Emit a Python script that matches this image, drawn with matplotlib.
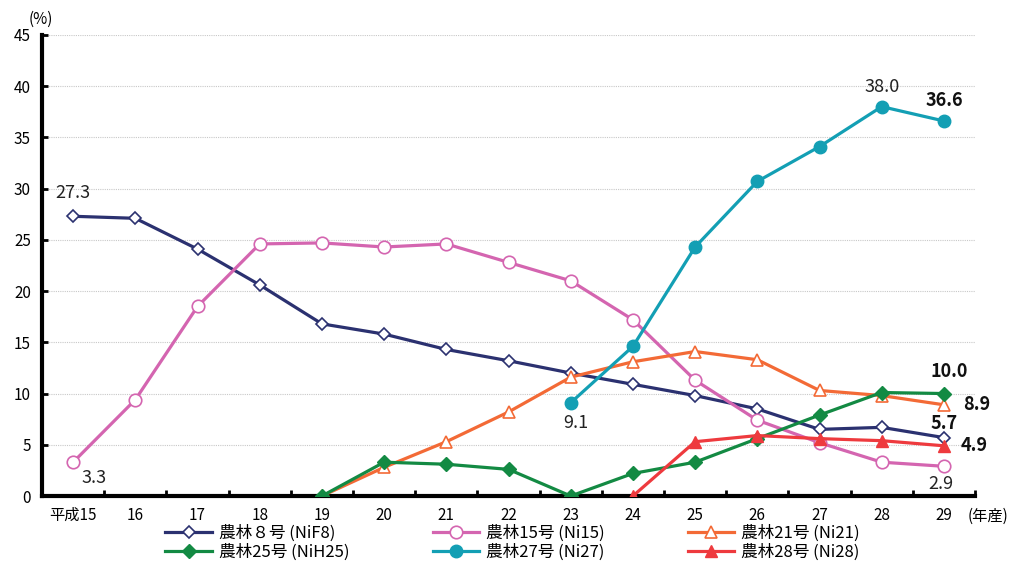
import numpy as np
import matplotlib
matplotlib.use("Agg")
import matplotlib.pyplot as plt

plt.rcParams['font.family'] = ['Noto Sans CJK JP', 'DejaVu Sans']

years = ["平成15", "16", "17", "18", "19", "20", "21", "22", "23", "24", "25", "26", "27", "28", "29"]
nan = np.nan
nif8 = [27.3, 27.1, 24.1, 20.6, 16.8, 15.8, 14.3, 13.2, 12.0, 10.9, 9.8, 8.5, 6.5, 6.7, 5.7]
ni15 = [3.3, 9.4, 18.5, 24.6, 24.7, 24.3, 24.6, 22.8, 21.0, 17.2, 11.3, 7.4, 5.2, 3.3, 2.9]
ni21 = [nan, nan, nan, nan, 0.0, 2.8, 5.3, 8.2, 11.6, 13.1, 14.1, 13.3, 10.3, 9.8, 8.9]
nih25 = [nan, nan, nan, nan, 0.0, 3.3, 3.1, 2.6, 0.0, 2.2, 3.3, 5.6, 7.9, 10.1, 10.0]
ni27 = [nan, nan, nan, nan, nan, nan, nan, nan, 9.1, 14.6, 24.3, 30.7, 34.1, 38.0, 36.6]
ni28 = [nan, nan, nan, nan, nan, nan, nan, nan, nan, 0.0, 5.3, 5.9, 5.6, 5.4, 4.9]

fig = plt.figure(figsize=(10.13, 5.63), dpi=100)
ax = fig.add_axes([0.0415, 0.119, 0.921, 0.819])
x = np.arange(len(years))

lw = 2.3
h_nif8, = ax.plot(x, nif8, color="#2b3170", lw=lw, marker="D", ms=6.5,
                  mfc="white", mec="#2b3170", mew=1.2, label="農林８号 (NiF8)", zorder=3)
h_ni15, = ax.plot(x, ni15, color="#d465b0", lw=lw, marker="o", ms=9,
                  mfc="white", mec="#d465b0", mew=1.2, label="農林15号 (Ni15)", zorder=3)
h_ni21, = ax.plot(x, ni21, color="#f36a36", lw=lw, marker="^", ms=9,
                  mfc="white", mec="#f36a36", mew=1.2, label="農林21号 (Ni21)", zorder=3)
h_nih25, = ax.plot(x, nih25, color="#138a43", lw=lw, marker="D", ms=7,
                   mfc="#138a43", mec="#138a43", label="農林25号 (NiH25)", zorder=3)
h_ni27, = ax.plot(x, ni27, color="#139fb4", lw=lw, marker="o", ms=9,
                  mfc="#139fb4", mec="#139fb4", label="農林27号 (Ni27)", zorder=3)
h_ni28, = ax.plot(x, ni28, color="#ee3a3e", lw=lw, marker="^", ms=9,
                  mfc="#ee3a3e", mec="#ee3a3e", label="農林28号 (Ni28)", zorder=3)

ax.set_xlim(-0.5, len(years) - 0.5)
ax.set_ylim(0, 45)
ax.set_yticks(np.arange(0, 46, 5))
ax.set_xticks(x)
ax.set_xticklabels(years)
ax.set_xticks(np.arange(-0.5, len(years) - 0.4, 1), minor=True)
ax.tick_params(axis="x", which="major", length=0, pad=8, labelsize=11)
ax.tick_params(axis="x", which="minor", direction="in", length=4, width=2)
ax.tick_params(axis="y", direction="in", length=4, width=2, labelsize=11, pad=8)

for s in ["top", "right"]:
    ax.spines[s].set_visible(False)
ax.spines["left"].set_linewidth(3)
ax.spines["bottom"].set_linewidth(3)
ax.grid(axis="y", color="#c8c8c8", lw=0.8, ls=(0, (1, 1)))
ax.set_axisbelow(True)

lab = dict(fontsize=13, color="#222222")
bold = dict(fontsize=13, color="#111111", fontweight="bold")
ax.annotate(f"{nif8[0]:.1f}", (0, nif8[0]), xytext=(0, 10), textcoords="offset points", ha="center", va="bottom", **lab)
ax.annotate(f"{ni15[0]:.1f}", (0, ni15[0]), xytext=(6, -5), textcoords="offset points", ha="left", va="top", **lab)
ax.annotate(f"{ni27[8]:.1f}", (8, ni27[8]), xytext=(4, -8), textcoords="offset points", ha="center", va="top", **lab)
ax.annotate(f"{ni27[13]:.1f}", (13, ni27[13]), xytext=(0, 8), textcoords="offset points", ha="center", va="bottom", **lab)
ax.annotate(f"{ni27[14]:.1f}", (14, ni27[14]), xytext=(0, 8), textcoords="offset points", ha="center", va="bottom", **bold)
ax.annotate(f"{nih25[14]:.1f}", (14, nih25[14]), xytext=(4, 9), textcoords="offset points", ha="center", va="bottom", **bold)
ax.annotate(f"{ni21[14]:.1f}", (14, ni21[14]), xytext=(14, 0), textcoords="offset points", ha="left", va="center", **bold)
ax.annotate(f"{nif8[14]:.1f}", (14, nif8[14]), xytext=(0, 3), textcoords="offset points", ha="center", va="bottom", **bold)
ax.annotate(f"{ni28[14]:.1f}", (14, ni28[14]), xytext=(12, 0), textcoords="offset points", ha="left", va="center", **bold)
ax.annotate(f"{ni15[14]:.1f}", (14, ni15[14]), xytext=(-2, -6), textcoords="offset points", ha="center", va="top", **lab)

fig.text(0.028, 0.965, "(%)", fontsize=11, ha="left", va="center")
fig.text(0.955, 0.083, "(年産)", fontsize=11, ha="left", va="center")

handles = [h_nif8, h_nih25, h_ni15, h_ni27, h_ni21, h_ni28]
fig.legend(handles=handles, labels=[h.get_label() for h in handles], ncol=3,
           loc="center", bbox_to_anchor=(0.506, 0.036), frameon=False, fontsize=12,
           handlelength=2.8, columnspacing=5.0, labelspacing=0.1, handletextpad=0.4,
           borderpad=0)

fig.savefig("out.png", dpi=100)
